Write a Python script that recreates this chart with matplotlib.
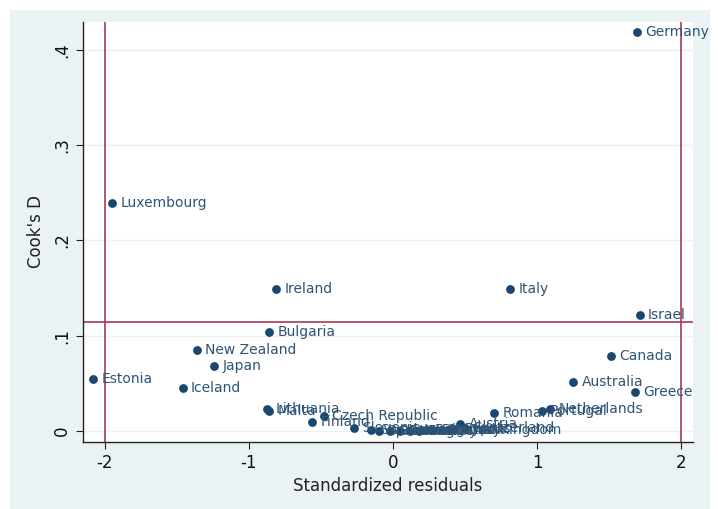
import matplotlib.pyplot as plt
from matplotlib.patches import Rectangle

plt.rcParams['axes.unicode_minus'] = False

# standardized residual (x) and Cook's D (y) per country
countries = ["Germany", "Luxembourg", "Ireland", "Italy", "Israel", "Bulgaria",
             "New Zealand", "Japan", "Estonia", "Iceland", "Canada", "Australia",
             "Greece", "Lithuania", "Malta", "Czech Republic", "Finland",
             "Romania", "Portugal", "Netherlands", "Austria", "Slovenia",
             "Sweden", "Spain", "Slovakia", "Poland", "Hungary", "France",
             "Belgium", "Denmark", "Norway", "Latvia", "Cyprus",
             "Switzerland", "United Kingdom"]
resid = [1.69, -1.95, -0.81, 0.81, 1.71, -0.86,
         -1.36, -1.24, -2.08, -1.46, 1.51, 1.25,
         1.68, -0.875, -0.86, -0.48, -0.56,
         0.70, 1.03, 1.09, 0.465, -0.27,
         -0.15, -0.10, -0.02, 0.05, 0.12, 0.18,
         0.23, 0.28, 0.33, 0.38, 0.42,
         0.50, 0.34]
cooksd = [0.418, 0.239, 0.149, 0.149, 0.122, 0.104,
          0.085, 0.068, 0.055, 0.045, 0.079, 0.051,
          0.041, 0.023, 0.021, 0.016, 0.009,
          0.019, 0.021, 0.023, 0.0075, 0.003,
          0.001, 0.0005, 0.0003, 0.0002, 0.0003, 0.0004,
          0.0006, 0.0008, 0.001, 0.0015, 0.002,
          0.003, 0.001]
cutoff_d = 4 / len(countries)
cutoff_r = [-2, 2]

navy = "#1a476f"
maroon = "#a02848"

fig = plt.figure(figsize=(7.18, 5.09), dpi=100, facecolor="white")
bg = Rectangle((10 / 718, 0), 700 / 718, 499 / 509, transform=fig.transFigure,
               facecolor="#eaf2f3", edgecolor="none", zorder=-10)
fig.add_artist(bg)
ax = fig.add_axes([83 / 718, 67 / 509, 610 / 718, 420 / 509])
ax.set_zorder(1)
ax.set_facecolor("white")

ax.scatter(resid, cooksd, s=40, color=navy, zorder=3, linewidths=0)
for name, x, y in zip(countries, resid, cooksd):
    ax.annotate(name, (x, y), xytext=(6, 0), textcoords="offset points",
                va="center", ha="left", fontsize=10, color="#2e5476", zorder=4,
                annotation_clip=False)

ax.axhline(cutoff_d, color=maroon, lw=1.1, zorder=2)
for v in cutoff_r:
    ax.axvline(v, color=maroon, lw=1.1, zorder=2)

ax.set_xlim(-2.15, 2.08)
ax.set_ylim(-0.0115, 0.429)
ax.set_xticks([-2, -1, 0, 1, 2])
ax.set_yticks([0, 0.1, 0.2, 0.3, 0.4])
ax.set_yticklabels(["0", ".1", ".2", ".3", ".4"], rotation=90, va="center")
ax.grid(axis="y", color="#eaf2f3", lw=1.0, zorder=1)
ax.set_axisbelow(True)
for side in ["top", "right"]:
    ax.spines[side].set_visible(False)
for side in ["left", "bottom"]:
    ax.spines[side].set_color("#222222")
    ax.spines[side].set_linewidth(1.0)
ax.tick_params(labelsize=12, length=5, color="#222222", labelcolor="#111111")
ax.set_xlabel("Standardized residuals", fontsize=12, color="#222222")
ax.set_ylabel("Cook's D", fontsize=12, color="#222222", labelpad=6)

fig.savefig("out.png", dpi=100, facecolor=fig.get_facecolor())
